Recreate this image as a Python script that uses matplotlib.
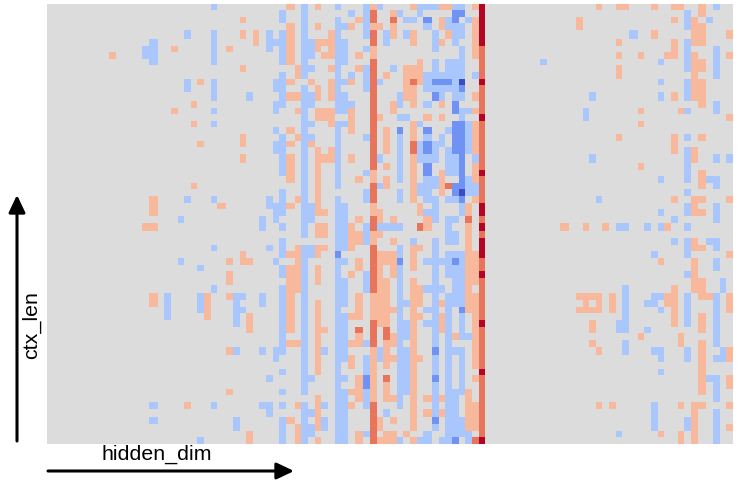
import numpy as np
import matplotlib
matplotlib.use("Agg")
import matplotlib.pyplot as plt

plt.rcParams['font.family'] = ['Liberation Sans', 'DejaVu Sans']

n_rows = 64
n_cols = 100
#these rows and columns come out wider in the picture
wide_rows = [4, 13, 22, 32, 41, 50, 59]
wide_cols = [5, 15, 25, 35, 45, 55, 65, 75, 85, 95]

#cell levels as (column, first row, last row), row 0 is the top one
light_blue = [
    (14,6,7),(15,5,8),(15,58,58),(15,60,60),(17,42,45),(19,31,31),(19,37,37),(20,4,4),(20,11,12),(20,28,28),
    (22,38,38),(22,42,44),(22,63,63),(24,0,0),(24,4,8),(24,11,13),(24,15,15),(24,17,17),(24,28,28),(24,35,35),
    (24,41,41),(24,58,58),(27,42,46),(27,50,50),(27,60,61),(28,42,42),(28,44,44),(29,13,13),(31,31,32),(31,42,43),
    (31,50,50),(31,58,58),(32,4,6),(32,28,29),(32,35,35),(32,54,54),(32,58,59),(33,5,5),(33,11,12),(33,14,15),
    (33,18,18),(33,20,21),(33,29,31),(33,37,37),(33,50,51),(34,1,2),(34,4,8),(34,10,14),(34,19,24),(34,27,30),
    (34,32,32),(34,34,36),(34,38,39),(34,41,50),(34,53,53),(34,56,56),(34,58,58),(34,60,63),(37,0,10),(37,12,33),
    (37,35,56),(37,58,63),(38,5,7),(38,9,9),(38,13,14),(38,17,17),(38,19,19),(38,29,31),(38,35,36),(38,54,54),
    (38,59,59),(38,61,62),(40,50,50),(40,58,58),(40,60,61),(42,0,0),(42,2,15),(42,17,26),(42,28,35),(42,37,63),
    (43,3,3),(43,5,8),(43,11,11),(43,13,15),(43,17,17),(43,29,35),(43,37,37),(43,40,43),(43,45,51),(43,54,54),
    (43,56,63),(44,1,1),(44,10,10),(44,14,14),(46,0,4),(46,6,6),(46,9,12),(46,19,19),(46,24,24),(46,27,28),
    (46,32,34),(46,39,41),(46,49,49),(46,51,53),(46,56,58),(46,62,62),(48,0,0),(48,11,11),(48,22,22),(48,26,26),
    (48,32,32),(48,50,51),(49,4,5),(49,32,32),(49,59,59),(50,9,9),(50,32,32),(51,1,1),(51,13,14),(51,16,16),
    (51,19,25),(51,27,28),(51,32,32),(51,35,36),(51,38,58),(51,63,63),(52,2,2),(52,4,4),(52,16,16),(52,43,43),
    (52,46,48),(52,50,56),(53,2,2),(53,34,34),(54,0,1),(54,17,17),(54,20,22),(54,26,27),(54,63,63),(55,0,0),
    (55,3,3),(55,10,12),(55,14,14),(55,19,19),(55,22,22),(55,25,28),(55,30,30),(55,37,37),(55,41,41),(55,44,44),
    (55,46,46),(55,62,63),(56,0,0),(56,4,6),(56,8,10),(56,12,12),(56,20,22),(56,25,26),(56,28,31),(56,34,49),
    (56,51,53),(56,55,59),(56,61,61),(57,10,10),(57,12,13),(57,19,20),(57,37,37),(57,41,41),(57,63,63),(58,2,3),
    (58,8,12),(58,18,18),(58,21,24),(58,28,28),(58,31,34),(58,36,39),(58,42,63),(59,0,0),(59,3,5),(59,8,13),
    (59,22,24),(59,28,28),(59,31,31),(59,33,34),(59,36,36),(59,38,43),(59,50,50),(59,56,62),(60,0,0),(60,3,4),
    (60,6,10),(60,13,13),(60,15,16),(60,29,30),(60,36,43),(60,45,48),(60,50,56),(60,60,62),(61,2,2),(61,15,15),
    (61,17,21),(61,25,27),(61,48,48),(61,62,63),(62,10,10),(62,22,22),(62,26,27),(72,8,8),(78,15,16),(79,13,13),
    (79,22,22),(80,28,28),(83,32,32),(83,46,47),(83,62,62),(84,32,32),(84,41,47),(84,49,50),(85,4,4),(87,32,32),
    (87,43,43),(87,47,47),(88,36,36),(88,42,43),(88,50,50),(88,58,61),(89,8,8),(89,11,11),(89,13,13),(89,25,25),
    (89,30,30),(89,32,32),(89,42,42),(89,44,44),(89,50,51),(89,53,53),(91,31,31),(91,34,34),(93,1,3),(93,5,9),
    (93,11,13),(93,15,15),(93,19,19),(93,21,25),(93,27,27),(93,29,30),(93,32,32),(93,34,36),(93,39,39),(93,42,46),
    (93,50,51),(93,60,61),(96,2,2),(96,25,25),(96,34,34),(96,54,54),(97,0,0),(97,6,10),(97,14,15),(97,22,22),
    (97,25,26),(97,29,31),(97,34,35),(97,37,38),(97,42,49),(97,51,51),(97,54,57),(97,59,63),(98,40,41),(98,50,51),
    (99,22,22),
]
mid_blue = [
    (42,36,36),(46,54,55),(51,18,18),(51,37,37),(55,2,2),(55,18,18),(55,20,21),(55,23,24),(56,11,11),(56,13,13),
    (56,50,50),(56,54,54),(56,60,60),(57,11,11),(58,11,11),(59,1,2),(59,14,15),(59,17,21),(59,26,27),(59,37,37),
    (59,63,63),(60,1,1),(60,12,12),(60,17,26),(60,28,28),(60,44,44),
]
dark_blue = [(60,11,11),(60,27,27)]
light_orange = [
    (9,7,7),(14,32,32),(15,28,30),(15,32,32),(15,42,43),(18,6,6),(18,15,15),(20,58,58),(21,14,14),(21,17,17),
    (21,26,26),(22,11,11),(22,20,20),(23,42,45),(25,29,29),(26,6,6),(26,37,37),(26,39,40),(26,42,42),(26,50,50),
    (26,56,56),(28,2,2),(28,4,4),(28,9,9),(28,19,20),(28,22,22),(28,36,37),(29,37,37),(29,45,47),(29,62,63),
    (30,4,5),(35,0,0),(35,3,8),(35,11,11),(35,13,13),(35,18,18),(35,20,20),(35,22,25),(35,29,29),(35,36,36),
    (35,38,47),(35,49,49),(35,60,60),(36,9,10),(36,13,13),(36,15,15),(36,19,19),(36,28,28),(36,35,41),(36,49,49),
    (36,58,58),(36,61,63),(38,11,11),(38,20,20),(39,0,0),(39,3,3),(39,5,6),(39,12,13),(39,15,16),(39,21,30),
    (39,32,33),(39,35,36),(39,38,40),(39,43,53),(39,57,61),(39,63,63),(40,5,5),(40,7,7),(40,15,16),(40,22,22),
    (40,30,30),(40,32,33),(40,35,35),(40,47,47),(41,4,7),(41,9,9),(41,11,13),(41,15,17),(41,21,22),(44,3,3),
    (44,11,11),(44,15,18),(44,22,22),(44,32,35),(44,39,39),(44,45,45),(44,49,49),(44,51,52),(44,56,56),(44,58,58),
    (45,2,2),(45,7,7),(45,9,9),(45,25,25),(45,31,31),(45,33,34),(45,37,38),(45,42,45),(45,48,49),(45,54,57),
    (45,62,63),(47,0,0),(47,3,3),(47,6,7),(47,24,25),(47,29,30),(47,33,34),(47,42,45),(47,50,57),(48,3,3),
    (48,16,16),(48,30,31),(48,33,33),(48,36,46),(48,60,61),(48,63,63),(49,10,10),(49,18,21),(49,23,23),(49,25,26),
    (49,36,37),(49,40,46),(49,49,52),(49,55,57),(49,62,63),(50,1,1),(50,3,4),(50,14,15),(50,31,31),(50,34,34),
    (50,36,39),(50,44,44),(50,48,49),(50,51,51),(50,57,57),(50,60,60),(50,62,63),(52,9,13),(52,62,62),(53,0,0),
    (53,4,5),(53,9,10),(53,12,14),(53,17,19),(53,22,28),(53,35,38),(53,40,61),(53,63,63),(54,8,11),(54,29,30),
    (54,35,35),(54,41,43),(54,45,45),(54,51,51),(55,16,16),(55,31,32),(55,57,57),(55,59,59),(57,0,0),(57,2,3),
    (57,5,5),(57,14,14),(57,16,16),(57,24,27),(57,43,43),(57,45,47),(57,57,57),(57,59,59),(58,0,0),(58,4,4),
    (59,48,48),(61,29,30),(61,32,44),(61,56,61),(62,0,0),(62,2,7),(62,13,13),(62,15,15),(62,17,21),(62,23,25),
    (62,28,28),(62,36,40),(62,42,52),(62,54,54),(62,58,61),(75,32,32),(77,2,3),(77,42,42),(77,44,44),(78,32,32),
    (78,42,44),(79,42,42),(79,44,44),(79,46,47),(79,49,49),(80,0,0),(80,42,44),(80,50,50),(80,58,58),(81,32,32),
    (82,42,44),(82,58,58),(83,0,0),(83,5,5),(83,7,7),(83,9,10),(83,19,19),(84,0,0),(86,7,7),(86,15,15),
    (86,17,17),(86,23,23),(86,48,48),(88,0,0),(88,4,4),(89,37,37),(89,62,62),(90,7,7),(90,32,32),(90,42,43),
    (91,0,0),(91,2,2),(91,5,7),(91,13,13),(91,19,21),(91,28,28),(91,41,46),(92,0,0),(92,15,15),(92,48,49),
    (92,58,58),(92,62,63),(94,2,5),(94,7,13),(94,21,22),(94,28,30),(94,34,35),(94,37,41),(94,58,63),(95,0,1),
    (95,3,5),(95,8,9),(95,11,14),(95,19,19),(95,24,26),(95,28,28),(95,30,30),(95,35,35),(95,40,42),(95,45,47),
    (95,49,56),(95,58,58),(96,42,42),(99,4,4),(99,7,7),(99,16,16),(99,28,28),(99,36,36),(99,42,44),(99,50,51),
    (99,54,55),(99,58,58),(99,61,61),
]
mid_orange = [
    (45,47,47),(47,1,2),(47,4,5),(47,8,23),(47,26,28),(47,31,32),(47,35,41),(47,46,49),(47,58,63),(49,47,48),
    (49,54,54),(50,2,2),(53,11,11),(53,20,21),(54,32,32),(58,26,26),(61,31,31),(62,63,63),(63,6,10),(63,12,15),
    (63,17,23),(63,25,28),(63,31,31),(63,33,33),(63,37,38),(63,40,45),(63,47,52),(63,54,62),
]
dark_red = [
    (63,0,5),(63,11,11),(63,16,16),(63,24,24),(63,29,30),(63,32,32),(63,34,36),(63,39,39),(63,46,46),(63,53,53),
    (63,63,63),
]

values = np.zeros((n_rows, n_cols))
for level, cells in [(-1, light_blue), (-2, mid_blue), (-3, dark_blue),
                     (1, light_orange), (2, mid_orange), (3, dark_red)]:
    for col, first, last in cells:
        values[first:last + 1, col] = level

col_w = np.ones(n_cols)
col_w[wide_cols] = 1.33
row_h = np.ones(n_rows)
row_h[wide_rows] = 1.33
x_edges = np.concatenate([[0], np.cumsum(col_w)])
y_edges = np.concatenate([[0], np.cumsum(row_h)])

W, H = 738, 488
fig = plt.figure(figsize=(W / 100, H / 100), dpi=100)
ax = fig.add_axes([47 / W, 1 - 444 / H, 686 / W, 440.5 / H])
ax.pcolormesh(x_edges, y_edges, values, cmap='coolwarm', vmin=-3, vmax=3, antialiased=False)
ax.set_xlim(x_edges[0], x_edges[-1])
ax.set_ylim(y_edges[-1], y_edges[0])
ax.axis('off')

arrow = dict(arrowstyle='-|>,head_width=0.5,head_length=1.05', color='black', lw=2.2, shrinkA=0, shrinkB=0)
ax.annotate('', xy=(294 / W, 1 - 471 / H), xytext=(48 / W, 1 - 471 / H),
            xycoords='figure fraction', textcoords='figure fraction', arrowprops=arrow)
ax.annotate('', xy=(17 / W, 1 - 195 / H), xytext=(17 / W, 1 - 441 / H),
            xycoords='figure fraction', textcoords='figure fraction', arrowprops=arrow)
fig.text(157 / W, 1 - 454 / H, 'hidden_dim', fontsize=15.4, ha='center', va='center')
fig.text(31 / W, 1 - 325 / H, 'ctx_len', fontsize=15.4, rotation=90, ha='center', va='center')

fig.savefig('out.png', dpi=100)
